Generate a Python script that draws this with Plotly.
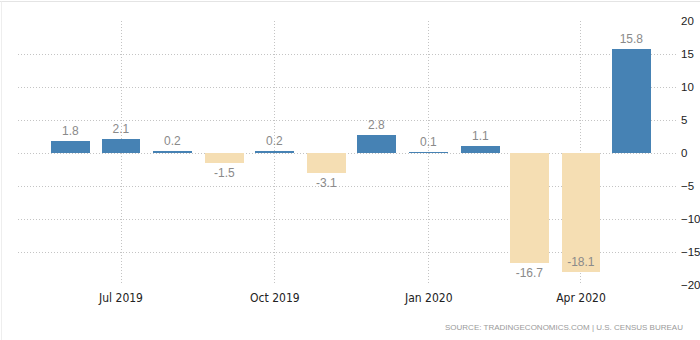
import plotly.graph_objects as go

months = ["2019-06-01", "2019-07-01", "2019-08-01", "2019-09-01", "2019-10-01", "2019-11-01",
          "2019-12-01", "2020-01-01", "2020-02-01", "2020-03-01", "2020-04-01", "2020-05-01"]
values = [1.8, 2.1, 0.2, -1.5, 0.2, -3.1, 2.8, 0.1, 1.1, -16.7, -18.1, 15.8]
labels = ["1.8", "2.1", "0.2", "-1.5", "0.2", "-3.1", "2.8", "0.1", "1.1", "-16.7", "-18.1", "15.8"]
x_tick_vals = ["2019-07-01", "2019-10-01", "2020-01-01", "2020-04-01"]
x_tick_text = ["Jul 2019", "Oct 2019", "Jan 2020", "Apr 2020"]
y_tick_vals = [-20, -15, -10, -5, 0, 5, 10, 15, 20]

BLUE = "#4682b4"
WHEAT = "#f5deb3"
colors = [BLUE if v >= 0 else WHEAT for v in values]
text_pos = ["inside" if v < -18 else "outside" for v in values]

fig = go.Figure()
fig.add_trace(go.Bar(
    x=months, y=values, text=labels, textposition=text_pos,
    insidetextanchor="end", constraintext="none",
    textfont=dict(family="Liberation Sans, Arial, sans-serif", size=12, color="#8a8a8a"),
    marker=dict(color=colors, line=dict(width=0)),
    width=23.3 * 86400000, cliponaxis=False, hoverinfo="skip",
))

fig.update_layout(
    width=700, height=340,
    margin=dict(l=18, r=22, t=21, b=55, autoexpand=False),
    paper_bgcolor="white", plot_bgcolor="white",
    showlegend=False,
    xaxis=dict(
        type="date", range=["2019-04-30 10:00", "2020-05-29"],
        tickvals=x_tick_vals, ticktext=x_tick_text,
        showgrid=True, gridcolor="#c4c4c4", griddash="1px,2px", gridwidth=1,
        showline=False, zeroline=False, ticks="", ticklabelstandoff=4,
        automargin=False,
        tickfont=dict(family="DejaVu Sans Condensed, DejaVu Sans, sans-serif", size=12, color="#222222"),
    ),
    yaxis=dict(
        side="right", range=[-20, 20], tickvals=y_tick_vals,
        showgrid=True, gridcolor="#c4c4c4", griddash="1px,2px", gridwidth=1,
        zeroline=False, showline=False, ticks="", ticklabelstandoff=2,
        automargin=False,
        tickfont=dict(family="Liberation Sans, Arial, sans-serif", size=11.5, color="#222222"),
    ),
    bargap=0,
)

fig.add_annotation(
    xref="paper", yref="paper", x=(685 - 18) / 660, y=-(327 - 285) / 264,
    xanchor="right", yanchor="middle", showarrow=False,
    text="SOURCE: TRADINGECONOMICS.COM | U.S. CENSUS BUREAU",
    font=dict(family="Liberation Sans, Arial, sans-serif", size=8, color="#9a9a9a"),
)

fig.add_shape(type="line", xref="paper", yref="paper", x0=-18 / 660, x1=682 / 660,
              y0=1 + 19.5 / 264, y1=1 + 19.5 / 264, line=dict(color="#e4e4e4", width=1))
fig.add_shape(type="line", xref="paper", yref="paper", x0=-16.5 / 660, x1=-16.5 / 660,
              y0=-55 / 264, y1=1 + 19.5 / 264, line=dict(color="#eeeeee", width=1))

fig.write_html("out.html")
